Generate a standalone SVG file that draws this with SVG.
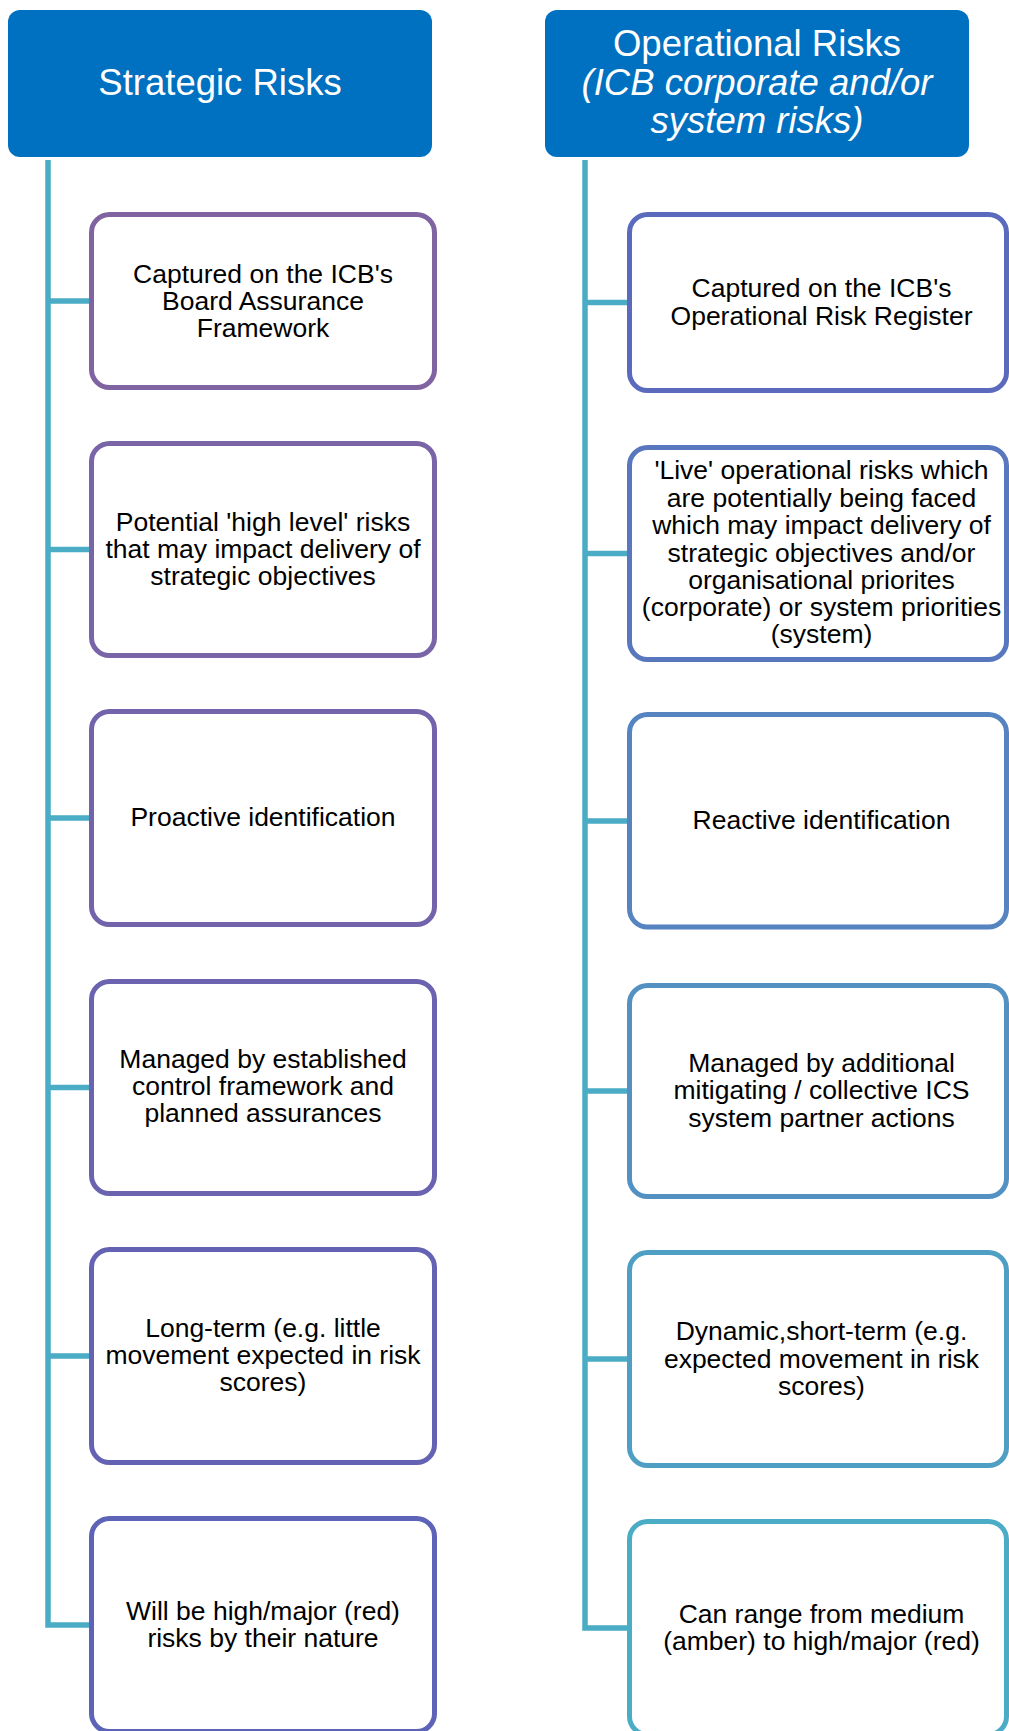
<svg xmlns="http://www.w3.org/2000/svg" width="1009" height="1731" viewBox="0 0 1009 1731">
<style>
.hdr{fill:#0070C0}
.htx{font-family:"Liberation Sans",Arial,sans-serif;font-size:36.5px;fill:#FFFFFF;text-anchor:middle}
.box{fill:#FFFFFF;stroke-width:5}
.tx{font-family:"Liberation Sans",Arial,sans-serif;font-size:26.5px;fill:#000000;text-anchor:middle}
.con{fill:none;stroke:#4BACC6;stroke-width:5.5}
</style>
<rect width="1009" height="1731" fill="#FFFFFF"/>
<g id="connectors">
<path class="con" d="M48 160 V1625 H92"/>
<path class="con" d="M48 301 H92 M48 549.5 H92 M48 818 H92 M48 1087.5 H92 M48 1356 H92"/>
<path class="con" d="M585 160 V1628 H630"/>
<path class="con" d="M585 302.5 H630 M585 553.5 H630 M585 821 H630 M585 1091 H630 M585 1359 H630"/>
</g>
<g id="hdr-strategic">
<rect class="hdr" x="8" y="10" width="424" height="147" rx="12"/>
<text class="htx" x="220" y="95">Strategic Risks</text>
</g>
<g id="hdr-operational">
<rect class="hdr" x="545" y="10" width="424" height="147" rx="12"/>
<text class="htx" x="757" y="56">Operational  Risks</text>
<text class="htx" x="757" y="94.5" font-style="italic">(ICB corporate and/or</text>
<text class="htx" x="757" y="133" font-style="italic">system risks)</text>
</g>
<g id="s1">
<rect class="box" x="91.5" y="214.5" width="343" height="173" rx="18" stroke="#8064A2"/>
<text class="tx" x="263" y="283">Captured on the ICB's</text>
<text class="tx" x="263" y="310">Board Assurance</text>
<text class="tx" x="263" y="337">Framework</text>
</g>
<g id="s2">
<rect class="box" x="91.5" y="443.5" width="343" height="212" rx="18" stroke="#7964A7"/>
<text class="tx" x="263" y="530.5">Potential 'high level' risks</text>
<text class="tx" x="263" y="557.5">that may impact delivery of</text>
<text class="tx" x="263" y="584.5">strategic objectives</text>
</g>
<g id="s3">
<rect class="box" x="91.5" y="711.5" width="343" height="213" rx="18" stroke="#7263AB"/>
<text class="tx" x="263" y="826">Proactive identification</text>
</g>
<g id="s4">
<rect class="box" x="91.5" y="981.5" width="343" height="212" rx="18" stroke="#6B63AF"/>
<text class="tx" x="263" y="1068">Managed by established</text>
<text class="tx" x="263" y="1095">control framework and</text>
<text class="tx" x="263" y="1122">planned assurances</text>
</g>
<g id="s5">
<rect class="box" x="91.5" y="1249.5" width="343" height="213" rx="18" stroke="#6463B3"/>
<text class="tx" x="263" y="1337">Long-term (e.g. little</text>
<text class="tx" x="263" y="1364">movement expected in risk</text>
<text class="tx" x="263" y="1391">scores)</text>
</g>
<g id="s6">
<rect class="box" x="91.5" y="1518.5" width="343" height="213" rx="18" stroke="#5D63B7"/>
<text class="tx" x="263" y="1619.5">Will be high/major (red)</text>
<text class="tx" x="263" y="1647">risks by their nature</text>
</g>
<g id="o1">
<rect class="box" x="629.5" y="214.5" width="377" height="176" rx="18" stroke="#5B6ABC"/>
<text class="tx" x="821.5" y="297">Captured on the ICB's</text>
<text class="tx" x="821.5" y="324.5">Operational Risk Register</text>
</g>
<g id="o2">
<rect class="box" x="629.5" y="447.5" width="377" height="212" rx="18" stroke="#5877BE"/>
<text class="tx" x="821.5" y="479">'Live' operational risks which</text>
<text class="tx" x="821.5" y="506.5">are potentially being faced</text>
<text class="tx" x="821.5" y="534">which may impact delivery of</text>
<text class="tx" x="821.5" y="561.5">strategic objectives and/or</text>
<text class="tx" x="821.5" y="589">organisational priorites</text>
<text class="tx" x="821.5" y="616">(corporate) or system priorities</text>
<text class="tx" x="821.5" y="643">(system)</text>
</g>
<g id="o3">
<rect class="box" x="629.5" y="714.5" width="377" height="212.5" rx="18" stroke="#5584C0"/>
<text class="tx" x="821.5" y="829">Reactive identification</text>
</g>
<g id="o4">
<rect class="box" x="629.5" y="985.5" width="377" height="211" rx="18" stroke="#5291C2"/>
<text class="tx" x="821.5" y="1071.5">Managed by additional</text>
<text class="tx" x="821.5" y="1099">mitigating / collective ICS</text>
<text class="tx" x="821.5" y="1126.5">system partner actions</text>
</g>
<g id="o5">
<rect class="box" x="629.5" y="1252.5" width="377" height="213" rx="18" stroke="#4F9EC4"/>
<text class="tx" x="821.5" y="1340">Dynamic,short-term (e.g.</text>
<text class="tx" x="821.5" y="1367.5">expected movement in risk</text>
<text class="tx" x="821.5" y="1395">scores)</text>
</g>
<g id="o6">
<rect class="box" x="629.5" y="1521.5" width="377" height="213" rx="18" stroke="#4BACC6"/>
<text class="tx" x="821.5" y="1622.5">Can range from medium</text>
<text class="tx" x="821.5" y="1650">(amber) to high/major (red)</text>
</g>
</svg>
